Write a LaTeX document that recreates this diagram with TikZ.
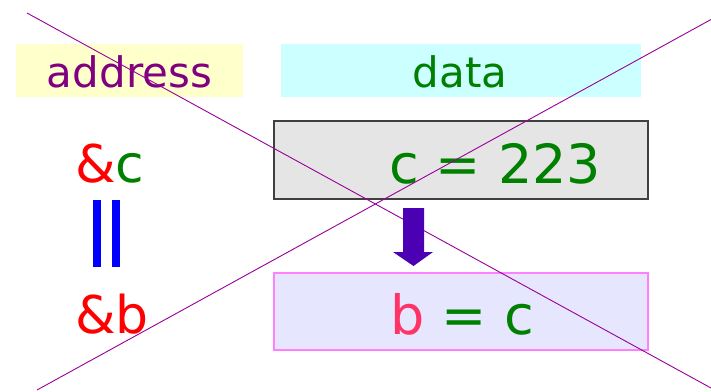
\documentclass[tikz,border=0pt]{standalone}
\usepackage{fontspec}
\setmainfont{DejaVu Sans}
\definecolor{addrfill}{HTML}{FFFFCC}
\definecolor{datafill}{HTML}{CCFFFF}
\definecolor{cellgray}{HTML}{E5E5E5}
\definecolor{cellline}{HTML}{404040}
\definecolor{cellblue}{HTML}{E6E6FF}
\definecolor{cellpink}{HTML}{FF80FF}
\definecolor{txtpurple}{HTML}{800080}
\definecolor{txtgreen}{HTML}{008000}
\definecolor{txtred}{HTML}{FF0000}
\definecolor{txtrose}{HTML}{FF3366}
\definecolor{barblue}{HTML}{0000FF}
\definecolor{arrowviolet}{HTML}{4B00B4}
\definecolor{crossline}{HTML}{990099}
\tikzset{
  cell/.style={inner sep=0pt, outer sep=0pt, line width=1.3pt},
  label/.style={inner sep=0pt, outer sep=0pt, anchor=base west, font=\fontsize{52}{52}\selectfont},
  htext/.style={inner sep=0pt, outer sep=0pt, anchor=base, font=\fontsize{42}{42}\selectfont},
}
\begin{document}
\begin{tikzpicture}[x=1pt,y=-1pt]
\useasboundingbox (0,0) rectangle (711,391);
% column headers
\fill[addrfill] (16,44) rectangle (243,97);
\fill[datafill] (281,44) rectangle (641,97);
\node[htext, text=txtpurple] (addr) at (129.5,87) {address};
\node[htext, text=txtgreen] (data) at (460,87) {data};
% memory cells
\draw[cell, draw=cellline, fill=cellgray] (274,121) rectangle (648,199);
\draw[cell, draw=cellpink, fill=cellblue] (274,273) rectangle (648,350);
\node[label, font=\fontsize{54}{54}\selectfont, text=txtgreen] (cval) at (389,183) {c = 223};
\node[label, font=\fontsize{54}{54}\selectfont] (bval) at (390.5,334) {\textcolor{txtrose}{b} \textcolor{txtgreen}{= c}};
% addresses
\node[label] (ca) at (75,182) {\textcolor{txtred}{\&}\textcolor{txtgreen}{c}};
\node[label, text=txtred] (ba) at (75,333) {\&b};
% equality bars
\fill[barblue] (93,200) rectangle (100.5,267);
\fill[barblue] (112,200) rectangle (119.5,267);
% crossing lines
\coordinate (x1) at (27,13);
\coordinate (x2) at (711,388);
\coordinate (x3) at (37,390);
\coordinate (x4) at (711,19.5);
\draw[crossline, line width=0.9pt] (x1) -- (x2);
\draw[crossline, line width=0.9pt] (x3) -- (x4);
% copy arrow
\fill[arrowviolet] (403,208) -- (424,208) -- (424,252) -- (433,252) -- (413.5,266)
  -- (393,252) -- (403,252) -- cycle;
\end{tikzpicture}
\end{document}
